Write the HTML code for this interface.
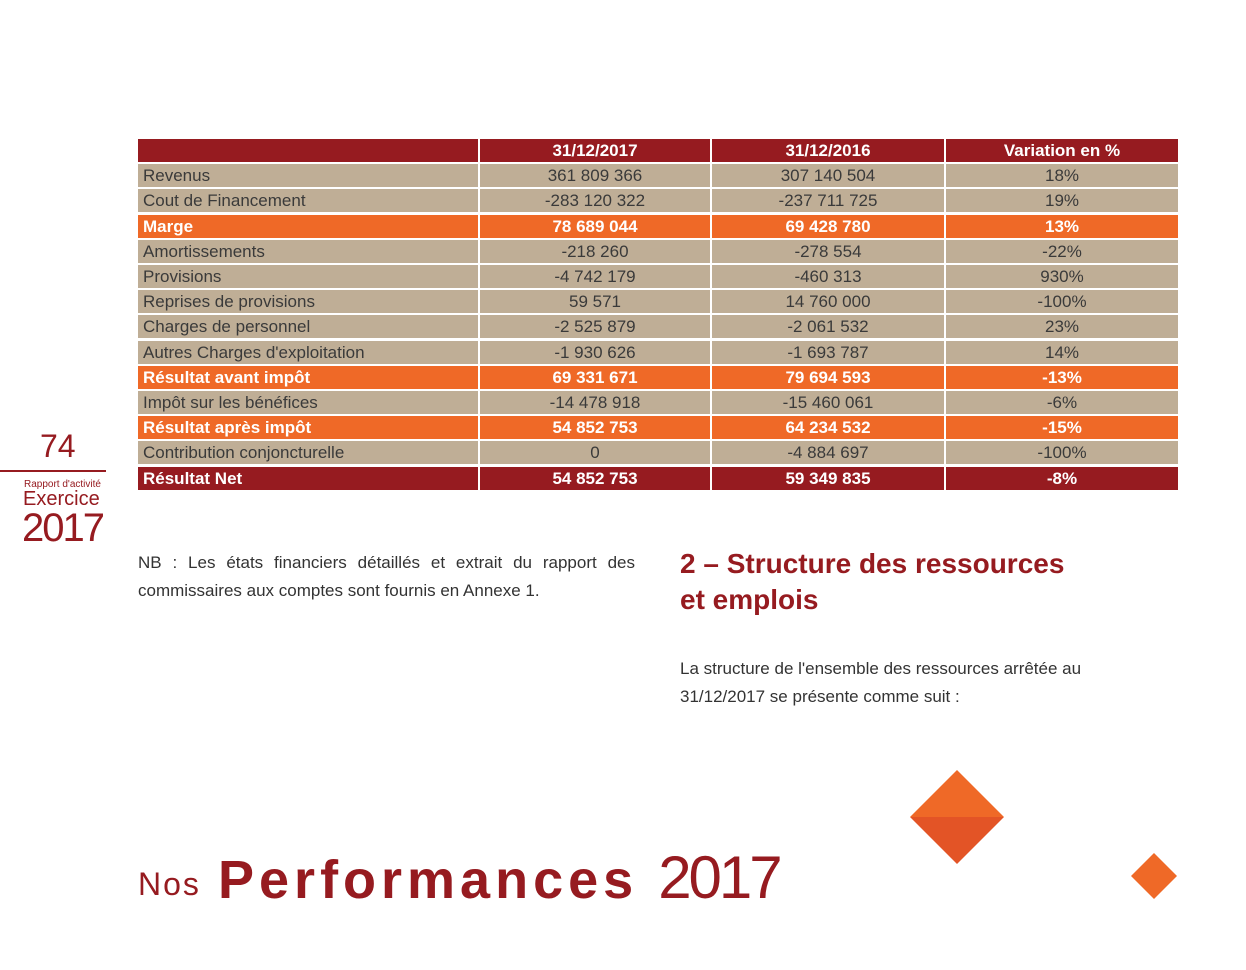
<!DOCTYPE html>
<html><head><meta charset="utf-8"><style>
body{margin:0;width:1246px;height:970px;background:#fff;position:relative;overflow:hidden;font-family:"Liberation Sans",sans-serif;}
.r{position:absolute;left:138px;width:1040px;height:23px;}
.c{position:absolute;top:0;height:23px;line-height:23px;font-size:17px;color:#3a3a3a;}
.c1{left:0;width:340px;padding-left:5px;box-sizing:border-box;}
.c2{left:342px;width:230px;text-align:center;}
.c3{left:574px;width:232px;text-align:center;}
.c4{left:808px;width:232px;text-align:center;}
.b .c{background:#bfae96;}
.o .c{background:#ef6927;color:#fff;font-weight:bold;}
.d .c{background:#961b20;color:#fff;font-weight:bold;}
.ab{position:absolute;}
</style></head><body>
<div class="r d" style="top:139px"><div class="c c1"></div><div class="c c2">31/12/2017</div><div class="c c3">31/12/2016</div><div class="c c4">Variation en %</div></div>
<div class="r b" style="top:164.2px"><div class="c c1">Revenus</div><div class="c c2">361 809 366</div><div class="c c3">307 140 504</div><div class="c c4">18%</div></div>
<div class="r b" style="top:189.4px"><div class="c c1">Cout de Financement</div><div class="c c2">-283 120 322</div><div class="c c3">-237 711 725</div><div class="c c4">19%</div></div>
<div class="r o" style="top:214.6px"><div class="c c1">Marge</div><div class="c c2">78 689 044</div><div class="c c3">69 428 780</div><div class="c c4">13%</div></div>
<div class="r b" style="top:239.8px"><div class="c c1">Amortissements</div><div class="c c2">-218 260</div><div class="c c3">-278 554</div><div class="c c4">-22%</div></div>
<div class="r b" style="top:265px"><div class="c c1">Provisions</div><div class="c c2">-4 742 179</div><div class="c c3">-460 313</div><div class="c c4">930%</div></div>
<div class="r b" style="top:290.2px"><div class="c c1">Reprises de provisions</div><div class="c c2">59 571</div><div class="c c3">14 760 000</div><div class="c c4">-100%</div></div>
<div class="r b" style="top:315.4px"><div class="c c1">Charges de personnel</div><div class="c c2">-2 525 879</div><div class="c c3">-2 061 532</div><div class="c c4">23%</div></div>
<div class="r b" style="top:340.6px"><div class="c c1">Autres Charges d'exploitation</div><div class="c c2">-1 930 626</div><div class="c c3">-1 693 787</div><div class="c c4">14%</div></div>
<div class="r o" style="top:365.8px"><div class="c c1">Résultat avant impôt</div><div class="c c2">69 331 671</div><div class="c c3">79 694 593</div><div class="c c4">-13%</div></div>
<div class="r b" style="top:391px"><div class="c c1">Impôt sur les bénéfices</div><div class="c c2">-14 478 918</div><div class="c c3">-15 460 061</div><div class="c c4">-6%</div></div>
<div class="r o" style="top:416.2px"><div class="c c1">Résultat après impôt</div><div class="c c2">54 852 753</div><div class="c c3">64 234 532</div><div class="c c4">-15%</div></div>
<div class="r b" style="top:441.4px"><div class="c c1">Contribution conjoncturelle</div><div class="c c2">0</div><div class="c c3">-4 884 697</div><div class="c c4">-100%</div></div>
<div class="r d" style="top:466.6px"><div class="c c1">Résultat Net</div><div class="c c2">54 852 753</div><div class="c c3">59 349 835</div><div class="c c4">-8%</div></div>

<div class="ab" style="left:40px;top:428px;font-size:32px;color:#961b20;">74</div>
<div class="ab" style="left:0;top:470px;width:106px;height:2px;background:#961b20"></div>
<div class="ab" style="left:24px;top:479px;font-size:10px;color:#961b20;">Rapport d'activité</div>
<div class="ab" style="left:23px;top:488px;font-size:20px;color:#961b20;">Exercice</div>
<div class="ab" style="left:22px;top:506px;font-size:40px;color:#961b20;letter-spacing:-2px;">2017</div>

<div class="ab" style="left:138px;top:549px;width:497px;font-size:17px;line-height:28px;color:#333;text-align:justify;text-align-last:left;">NB : Les états financiers détaillés et extrait du rapport des commissaires aux comptes sont fournis en Annexe 1.</div>
<div class="ab" style="left:680px;top:546px;font-size:28px;line-height:36px;color:#961b20;font-weight:bold;">2 – Structure des ressources<br>et emplois</div>
<div class="ab" style="left:680px;top:655px;font-size:17px;line-height:28px;color:#333;">La structure de l'ensemble des ressources arrêtée au<br>31/12/2017 se présente comme suit :</div>

<svg class="ab" style="left:0;top:0" width="1246" height="970">
<polygon points="910,817 957,770 1004,817" fill="#ef6927"/>
<polygon points="910,817 1004,817 957,864" fill="#e35426"/>
<polygon points="1154,853 1177,876 1154,899 1131,876" fill="#ef6927"/>
</svg>
<div class="ab" style="left:138px;top:866px;font-size:32px;color:#961b20;letter-spacing:2px;">Nos</div>
<div class="ab" style="left:218px;top:843px;font-size:54px;color:#961b20;font-weight:bold;letter-spacing:5px;white-space:nowrap;">Performances <span style="font-weight:normal;letter-spacing:-3px;font-size:60px">2017</span></div>
</body></html>
